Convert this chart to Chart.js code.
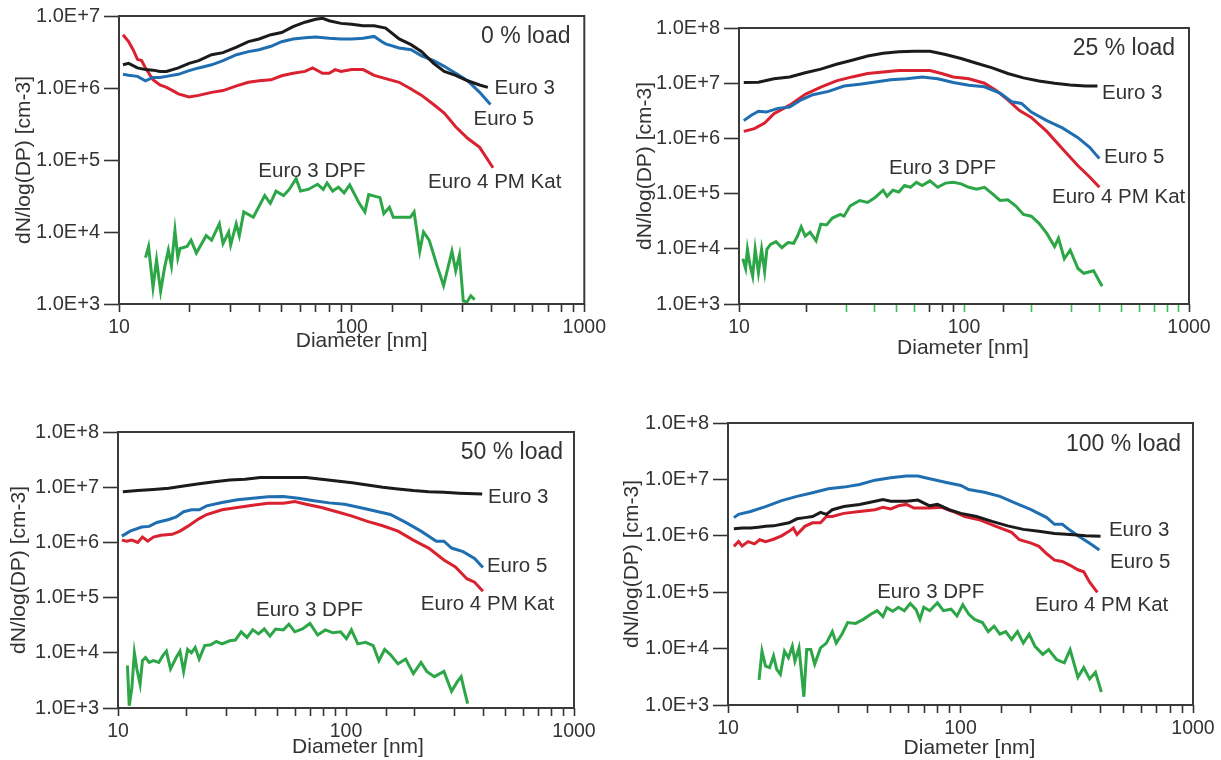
<!DOCTYPE html>
<html>
<head>
<meta charset="utf-8">
<script src="https://cdn.jsdelivr.net/npm/chart.js@4.4.1/dist/chart.umd.min.js"></script>
<style>
html,body{margin:0;padding:0;background:#fff;width:1221px;height:760px;overflow:hidden;}
canvas{position:absolute;}
</style>
</head>
<body>
<canvas id="p1" width="610" height="360" style="left:0px;top:0px"></canvas>
<canvas id="p2" width="611" height="360" style="left:610px;top:0px"></canvas>
<canvas id="p3" width="610" height="380" style="left:0px;top:380px"></canvas>
<canvas id="p4" width="611" height="380" style="left:610px;top:380px"></canvas>
<script>
// ---------- tick labels ----------
const xTickValues = [10, 100, 1000];
const xTickLabels = ['10', '100', '1000'];
const yTickValues = [1e3, 1e4, 1e5, 1e6, 1e7, 1e8];
const yTickLabels = ['1.0E+3', '1.0E+4', '1.0E+5', '1.0E+6', '1.0E+7', '1.0E+8'];
const seriesNames = ['Euro 3', 'Euro 5', 'Euro 4 PM Kat', 'Euro 3 DPF'];
const panelTitles = ['0 % load', '25 % load', '50 % load', '100 % load'];

// ---------- Panel 1 : 0 % load ----------
const p1Euro3D = [10.4, 11.0, 12.0, 13.0, 14.0, 15.0, 16.0, 18.0, 20.0, 22.0, 25.0, 28.0, 32.0, 36.0, 40.0, 45.0, 50.0, 56.0, 63.0, 70.0, 75.0, 80.0, 90.0, 100, 112, 125, 140, 160, 180, 200, 225, 250, 280, 315, 355, 385];
const p1Euro3V = [2.1e6, 2.2e6, 1.9e6, 1.8e6, 1.77e6, 1.7e6, 1.7e6, 1.9e6, 2.2e6, 2.4e6, 2.9e6, 3.1e6, 3.7e6, 4.4e6, 4.8e6, 5.5e6, 5.9e6, 7.1e6, 8.2e6, 9.0e6, 9.3e6, 8.6e6, 7.9e6, 7.7e6, 7.3e6, 7.3e6, 6.8e6, 4.8e6, 4.0e6, 3.2e6, 2.2e6, 1.7e6, 1.5e6, 1.26e6, 1.1e6, 1.02e6];
const p1Euro5D = [10.4, 11.0, 12.0, 13.0, 14.0, 15.0, 16.0, 18.0, 20.0, 22.0, 25.0, 28.0, 32.0, 36.0, 40.0, 45.0, 50.0, 56.0, 63.0, 70.0, 80.0, 90.0, 100, 112, 125, 135, 140, 160, 180, 200, 225, 250, 280, 315, 355, 395];
const p1Euro5V = [1.55e6, 1.5e6, 1.45e6, 1.26e6, 1.4e6, 1.4e6, 1.45e6, 1.55e6, 1.74e6, 1.9e6, 2.1e6, 2.4e6, 2.9e6, 3.2e6, 3.4e6, 3.8e6, 4.4e6, 4.8e6, 5.0e6, 5.1e6, 4.9e6, 4.8e6, 4.8e6, 4.9e6, 5.2e6, 4.4e6, 4.1e6, 3.6e6, 3.4e6, 2.8e6, 2.4e6, 2.0e6, 1.6e6, 1.26e6, 8.7e5, 5.9e5];
const p1Euro4D = [10.4, 11.0, 11.5, 12.0, 12.5, 13.0, 14.0, 15.0, 16.0, 17.0, 18.0, 20.0, 22.0, 25.0, 28.0, 32.0, 36.0, 40.0, 45.0, 50.0, 56.0, 63.0, 68.0, 75.0, 80.0, 85.0, 90.0, 100, 112, 125, 140, 160, 180, 200, 225, 250, 280, 315, 355, 405];
const p1Euro4V = [5.5e6, 4.4e6, 3.4e6, 2.5e6, 2.4e6, 1.9e6, 1.3e6, 1.1e6, 1.02e6, 9.2e5, 8.3e5, 7.5e5, 7.9e5, 8.7e5, 9.2e5, 1.07e6, 1.2e6, 1.26e6, 1.3e6, 1.48e6, 1.6e6, 1.7e6, 1.9e6, 1.6e6, 1.6e6, 1.8e6, 1.7e6, 1.8e6, 1.8e6, 1.5e6, 1.35e6, 1.2e6, 9.7e5, 7.9e5, 5.9e5, 4.5e5, 2.9e5, 2.0e5, 1.5e5, 7.8e4];
const p1DpfD = [13.0, 13.4, 14.0, 14.5, 15.1, 15.7, 16.3, 16.8, 17.4, 17.9, 18.3, 19.6, 20.4, 21.5, 23.7, 25.0, 27.0, 28.0, 29.6, 30.2, 31.9, 32.9, 34.4, 37.8, 42.3, 44.7, 47.3, 51.0, 53.9, 57.7, 60.3, 65.0, 71.4, 75.5, 78.4, 82.9, 87.7, 92.8, 98.1, 107.8, 114.0, 118.4, 132.4, 137.5, 145.4, 151.0, 178.7, 185.5, 196.2, 203.7, 215.4, 232.2, 248.4, 269.8, 280.0, 290.7, 301.8, 313.3, 325.3, 337.7];
const p1DpfV = [4.4e3, 6.3e3, 1.7e3, 4.1e3, 1.5e3, 3.2e3, 5.6e3, 3.4e3, 1.05e4, 4.4e3, 5.9e3, 6.3e3, 7.7e3, 5.1e3, 8.9e3, 7.7e3, 1.3e4, 6.9e3, 1.0e4, 6.6e3, 1.3e4, 8.9e3, 1.9e4, 1.6e4, 3.2e4, 2.5e4, 3.7e4, 3.2e4, 3.9e4, 5.5e4, 3.7e4, 3.9e4, 4.6e4, 3.9e4, 4.8e4, 3.7e4, 4.2e4, 3.5e4, 4.5e4, 2.5e4, 1.9e4, 3.3e4, 3.0e4, 1.8e4, 2.2e4, 1.6e4, 1.6e4, 1.9e4, 5.4e3, 1.0e4, 7.7e3, 3.5e3, 1.8e3, 5.4e3, 2.9e3, 4.8e3, 1.1e3, 1.07e3, 1.3e3, 1.15e3];

// ---------- Panel 2 : 25 % load ----------
const p2Euro3D = [10.5, 12.2, 14.3, 16.8, 19.7, 23.1, 27.1, 31.8, 37.3, 43.7, 51.3, 60.1, 70.6, 82.7, 97.0, 113.8, 133.5, 156.6, 183.7, 215.4, 252.7, 296.4, 347.6, 391.8];
const p2Euro3V = [1.03e7, 1.04e7, 1.2e7, 1.3e7, 1.55e7, 1.8e7, 2.2e7, 2.6e7, 3.1e7, 3.5e7, 3.7e7, 3.8e7, 3.8e7, 3.3e7, 2.8e7, 2.3e7, 1.9e7, 1.5e7, 1.25e7, 1.1e7, 1.0e7, 9.3e6, 8.9e6, 8.9e6];
const p2Euro5D = [10.5, 11.3, 12.2, 13.2, 14.9, 16.8, 18.9, 21.3, 25.0, 29.3, 34.4, 40.4, 47.3, 55.5, 65.2, 76.4, 89.6, 105.1, 123.3, 144.6, 163.0, 180.1, 199.0, 233.3, 273.7, 321.0, 361.8, 399.7];
const p2Euro5V = [2.1e6, 2.6e6, 3.1e6, 3.0e6, 3.5e6, 3.7e6, 5.0e6, 6.2e6, 7.1e6, 8.9e6, 9.6e6, 1.05e7, 1.15e7, 1.2e7, 1.3e7, 1.2e7, 1.03e7, 9.2e6, 8.6e6, 6.6e6, 4.6e6, 4.3e6, 3.0e6, 2.1e6, 1.55e6, 1.03e6, 6.9e5, 4.3e5];
const p2Euro4D = [10.5, 11.7, 13.0, 14.3, 16.8, 19.7, 23.1, 27.1, 31.8, 37.3, 43.7, 51.3, 60.1, 70.6, 79.5, 89.6, 105.1, 123.3, 139.0, 156.6, 176.5, 199.0, 233.3, 273.7, 321.0, 361.8, 399.7];
const p2Euro4V = [1.34e6, 1.5e6, 1.9e6, 2.8e6, 4.0e6, 6.3e6, 8.5e6, 1.1e7, 1.3e7, 1.5e7, 1.6e7, 1.7e7, 1.7e7, 1.7e7, 1.5e7, 1.3e7, 1.2e7, 1.0e7, 7.4e6, 5.0e6, 3.2e6, 2.4e6, 1.34e6, 6.5e5, 3.2e5, 2.0e5, 1.3e5];
const p2DpfD = [10.4, 10.7, 10.9, 11.2, 11.5, 11.8, 12.2, 12.6, 13.0, 13.3, 13.8, 14.6, 15.5, 16.5, 17.5, 18.2, 18.9, 19.7, 20.7, 22.0, 23.1, 24.5, 26.0, 28.2, 29.3, 31.2, 34.4, 37.3, 40.4, 43.7, 45.5, 48.3, 51.3, 54.4, 57.8, 61.4, 65.2, 70.6, 76.4, 82.7, 89.6, 97.0, 105.1, 113.8, 123.3, 133.5, 144.6, 156.6, 169.6, 183.7, 199.0, 215.4, 233.3, 252.7, 263.0, 279.2, 296.4, 321.0, 340.8, 376.6, 411.0];
const p2DpfV = [6.6e3, 4.4e3, 9.8e3, 5.0e3, 3.2e3, 9.8e3, 3.7e3, 9.8e3, 3.9e3, 9.8e3, 1.2e4, 1.35e4, 1.05e4, 1.3e4, 1.26e4, 1.7e4, 2.5e4, 1.7e4, 2.0e4, 1.4e4, 2.8e4, 2.7e4, 3.6e4, 4.2e4, 3.9e4, 6.0e4, 7.5e4, 6.9e4, 8.6e4, 1.15e5, 8.9e4, 1.15e5, 1.07e5, 1.4e5, 1.3e5, 1.6e5, 1.4e5, 1.7e5, 1.3e5, 1.55e5, 1.6e5, 1.5e5, 1.3e5, 1.2e5, 1.3e5, 1.0e5, 7.5e4, 7.7e4, 6.0e4, 4.2e4, 3.9e4, 2.9e4, 1.9e4, 1.1e4, 1.55e4, 6.6e3, 9.5e3, 4.4e3, 3.6e3, 4.0e3, 2.1e3];
const p2GreenTicks = [30, 40, 50, 60, 100, 200, 300, 400, 500, 600, 700, 800, 900];

// ---------- Panel 3 : 50 % load ----------
const p3Euro3D = [10.5, 12.2, 14.3, 16.7, 19.4, 22.7, 26.5, 30.9, 36.1, 42.1, 49.1, 57.3, 66.9, 78.1, 91.1, 106.4, 124.2, 144.9, 169.1, 197.4, 230.4, 268.9, 313.8, 395.7];
const p3Euro3V = [8.3e6, 8.7e6, 9.1e6, 9.6e6, 1.05e7, 1.15e7, 1.26e7, 1.35e7, 1.4e7, 1.5e7, 1.5e7, 1.5e7, 1.5e7, 1.4e7, 1.3e7, 1.2e7, 1.1e7, 1.0e7, 9.3e6, 8.7e6, 8.3e6, 8.1e6, 7.8e6, 7.5e6];
const p3Euro5D = [10.4, 11.3, 12.7, 13.7, 14.8, 16.7, 18.0, 19.4, 21.0, 22.7, 24.5, 28.6, 33.4, 39.0, 45.5, 53.1, 61.9, 72.3, 84.4, 98.5, 114.9, 134.2, 156.5, 182.7, 213.3, 248.9, 268.9, 290.4, 326.2, 366.3, 398.7];
const p3Euro5V = [1.3e6, 1.6e6, 1.9e6, 1.95e6, 2.3e6, 2.6e6, 2.9e6, 3.6e6, 3.9e6, 3.9e6, 4.6e6, 5.3e6, 5.9e6, 6.3e6, 6.7e6, 6.8e6, 6.3e6, 5.7e6, 5.2e6, 4.9e6, 4.3e6, 3.7e6, 3.2e6, 2.3e6, 1.6e6, 1.05e6, 1.05e6, 7.9e5, 6.8e5, 5.1e5, 3.5e5];
const p3Euro4D = [10.4, 10.9, 11.5, 12.2, 12.8, 13.5, 14.3, 15.4, 17.3, 18.7, 20.2, 22.7, 24.5, 28.6, 33.4, 39.0, 45.5, 53.1, 59.6, 66.9, 78.1, 91.1, 106.4, 124.2, 144.9, 169.1, 197.4, 230.4, 268.9, 301.9, 338.9, 366.3, 398.7];
const p3Euro4V = [1.1e6, 1.05e6, 1.1e6, 1.0e6, 1.25e6, 1.05e6, 1.25e6, 1.35e6, 1.4e6, 1.6e6, 1.95e6, 2.7e6, 3.2e6, 3.9e6, 4.3e6, 4.7e6, 5.1e6, 5.1e6, 5.5e6, 4.9e6, 4.3e6, 3.6e6, 3.0e6, 2.4e6, 2.0e6, 1.6e6, 1.1e6, 7.9e5, 4.8e5, 3.6e5, 2.2e5, 1.9e5, 1.3e5];
const p3DpfD = [11.0, 11.2, 11.5, 11.8, 12.1, 12.5, 12.8, 13.2, 13.7, 14.3, 15.1, 15.7, 16.3, 17.0, 18.0, 18.7, 19.4, 20.2, 21.0, 21.8, 22.7, 24.0, 25.5, 27.0, 28.6, 30.9, 32.7, 34.7, 36.8, 39.0, 41.3, 43.8, 46.4, 49.1, 53.1, 56.2, 59.6, 64.4, 69.5, 75.1, 81.2, 87.7, 94.7, 100.4, 105.6, 112.7, 121.8, 131.6, 139.4, 147.7, 156.5, 169.1, 182.7, 197.4, 213.3, 226.0, 244.1, 268.9, 290.4, 307.8, 319.9, 328.7, 341.6];
const p3DpfV = [5.9e3, 1.1e3, 2.3e3, 1.0e4, 5.1e3, 2.7e3, 7.2e3, 8.2e3, 6.7e3, 7.2e3, 6.7e3, 8.8e3, 1.07e4, 5.1e3, 8.2e3, 1.07e4, 4.6e3, 1.15e4, 1.0e4, 1.25e4, 7.7e3, 1.35e4, 1.4e4, 1.6e4, 1.45e4, 1.65e4, 1.7e4, 2.4e4, 1.9e4, 2.6e4, 2.2e4, 2.7e4, 2.0e4, 2.7e4, 2.6e4, 3.3e4, 2.4e4, 2.7e4, 3.4e4, 2.1e4, 2.6e4, 2.3e4, 2.4e4, 1.8e4, 2.6e4, 1.45e4, 1.55e4, 1.35e4, 7.2e3, 1.15e4, 9.3e3, 6.3e3, 7.7e3, 4.2e3, 6.7e3, 4.6e3, 3.7e3, 4.6e3, 2.0e3, 3.0e3, 3.7e3, 2.3e3, 1.2e3];

// ---------- Panel 4 : 100 % load ----------
const p4Euro3D = [10.6, 11.5, 12.5, 13.5, 14.5, 15.7, 17.0, 18.3, 19.8, 21.4, 23.1, 25.0, 26.5, 28.1, 31.5, 36.8, 42.9, 46.4, 50.1, 58.5, 65.6, 73.7, 79.6, 89.4, 100.4, 117.2, 136.7, 159.6, 186.3, 217.4, 253.8, 296.1, 345.6, 400.3];
const p4Euro3V = [1.33e6, 1.37e6, 1.37e6, 1.42e6, 1.47e6, 1.5e6, 1.6e6, 1.7e6, 2.0e6, 2.1e6, 2.2e6, 2.6e6, 2.4e6, 2.9e6, 3.3e6, 3.6e6, 4.1e6, 4.4e6, 4.1e6, 4.1e6, 4.3e6, 3.4e6, 3.6e6, 2.9e6, 2.5e6, 2.2e6, 1.8e6, 1.5e6, 1.3e6, 1.2e6, 1.1e6, 1.05e6, 1.0e6, 9.8e5];
const p4Euro5D = [10.6, 11.1, 12.5, 14.5, 17.0, 19.8, 23.1, 27.0, 31.5, 36.8, 42.9, 50.1, 58.5, 65.6, 73.7, 86.0, 100.4, 108.4, 126.6, 147.7, 172.4, 201.2, 234.9, 253.8, 274.2, 296.1, 319.9, 359.3, 395.7];
const p4Euro5V = [2.1e6, 2.4e6, 2.7e6, 3.3e6, 4.2e6, 5.0e6, 5.8e6, 6.8e6, 7.3e6, 8.1e6, 9.7e6, 1.07e7, 1.15e7, 1.15e7, 1.03e7, 8.9e6, 7.8e6, 6.6e6, 5.9e6, 5.0e6, 3.8e6, 2.9e6, 2.1e6, 1.6e6, 1.6e6, 1.25e6, 1.0e6, 7.4e5, 5.6e5];
const p4Euro4D = [10.6, 11.1, 11.5, 12.2, 13.0, 13.7, 14.5, 15.7, 17.0, 18.3, 19.1, 19.8, 21.4, 23.1, 25.0, 26.5, 28.1, 31.5, 36.8, 42.9, 46.4, 50.1, 54.1, 58.5, 63.1, 73.7, 82.8, 92.9, 104.3, 121.8, 142.1, 165.9, 179.2, 201.2, 217.4, 234.9, 253.8, 274.2, 296.1, 319.9, 338.9, 359.3, 380.6, 388.1];
const p4Euro4V = [6.5e5, 7.9e5, 6.6e5, 7.9e5, 7.2e5, 8.5e5, 7.9e5, 8.7e5, 1.0e6, 1.2e6, 1.37e6, 1.05e6, 1.47e6, 1.7e6, 1.7e6, 2.2e6, 2.2e6, 2.5e6, 2.7e6, 2.9e6, 3.2e6, 3.0e6, 3.4e6, 3.6e6, 3.1e6, 3.1e6, 3.2e6, 2.7e6, 2.2e6, 1.9e6, 1.47e6, 1.15e6, 8.5e5, 7.4e5, 6.5e5, 4.8e5, 3.7e5, 3.5e5, 3.0e5, 2.5e5, 2.3e5, 1.5e5, 1.1e5, 1.0e5];
const p4DpfD = [13.6, 14.0, 14.5, 15.1, 15.7, 16.2, 16.8, 17.5, 18.2, 18.9, 19.4, 20.2, 21.2, 21.8, 22.7, 23.6, 25.0, 26.5, 28.1, 29.2, 30.9, 32.7, 35.4, 38.2, 41.3, 43.8, 46.4, 48.2, 51.1, 54.1, 57.3, 60.8, 64.4, 66.9, 69.5, 73.7, 79.6, 84.4, 91.1, 96.6, 102.3, 108.4, 114.9, 124.2, 131.6, 139.4, 147.7, 156.5, 165.9, 175.8, 186.3, 197.4, 209.1, 226.0, 239.4, 258.8, 279.5, 296.1, 319.9, 338.9, 359.3, 380.6, 403.4];
const p4DpfV = [2.8e3, 9.0e3, 4.9e3, 4.6e3, 7.4e3, 4.3e3, 3.5e3, 9.0e3, 6.9e3, 1.1e4, 6.0e3, 1.03e4, 1.4e3, 9.6e3, 9.6e3, 5.3e3, 1.03e4, 1.25e4, 2.0e4, 1.25e4, 1.8e4, 2.9e4, 2.8e4, 3.3e4, 4.1e4, 4.7e4, 3.7e4, 5.3e4, 4.6e4, 5.4e4, 4.7e4, 6.3e4, 4.9e4, 3.3e4, 5.4e4, 4.7e4, 6.5e4, 4.7e4, 5.0e4, 3.8e4, 6.0e4, 4.1e4, 3.3e4, 2.9e4, 2.0e4, 2.5e4, 1.8e4, 2.0e4, 1.45e4, 2.0e4, 1.25e4, 1.8e4, 1.1e4, 7.9e3, 9.6e3, 6.4e3, 5.6e3, 9.6e3, 3.1e3, 4.6e3, 2.9e3, 3.8e3, 1.7e3];

// ---------- styling ----------
Chart.defaults.font.family = "'Liberation Sans', Arial, Helvetica, sans-serif";
Chart.defaults.color = '#333333';
const INK = '#333333';
const COLORS = ['#1b1b1b', '#1f6eb1', '#d9212f', '#2ca646'];
const GREEN_TICK = '#3cbf55';

function pts(d, v) { return d.map((x, i) => ({ x: x, y: v[i] })); }
function xLabel(v) {
  for (let i = 0; i < xTickValues.length; i++) {
    if (Math.abs(v - xTickValues[i]) / xTickValues[i] < 1e-6) return xTickLabels[i];
  }
  return '';
}

// frame, in-plot annotations and x-axis title
const decor = {
  id: 'decor',
  afterDraw(chart, args, o) {
    const { ctx, chartArea: a, scales } = chart;
    const xs = scales.x, ys = scales.y;
    ctx.save();
    ctx.strokeStyle = '#3a3a3a';
    ctx.lineWidth = 2;
    ctx.strokeRect(a.left, a.top, a.right - a.left, a.bottom - a.top);
    ctx.fillStyle = INK;
    ctx.textBaseline = 'middle';
    o.notes.forEach(n => {
      ctx.font = n.size + "px 'Liberation Sans', Arial, sans-serif";
      ctx.textAlign = n.align || 'left';
      ctx.fillText(n.text, xs.getPixelForValue(n.x), ys.getPixelForValue(n.y));
    });
    ctx.font = "21px 'Liberation Sans', Arial, sans-serif";
    ctx.textAlign = 'center';
    ctx.fillText('Diameter [nm]', (a.left + a.right) / 2 + o.xTitleDx, a.bottom + o.xTitleDy);
    ctx.restore();
  }
};

function makePanel(id, series, g, notes) {
  const datasets = series.map((s, i) => ({
    label: seriesNames[i],
    data: pts(s[0], s[1]),
    borderColor: COLORS[i],
    backgroundColor: COLORS[i],
    borderWidth: 3,
    pointRadius: 0,
    showLine: true,
    tension: 0,
    fill: false
  }));
  new Chart(document.getElementById(id), {
    type: 'scatter',
    data: { datasets: datasets },
    options: {
      responsive: false,
      animation: false,
      layout: { padding: { top: g.top, right: g.right, left: 0, bottom: 0 } },
      plugins: {
        legend: { display: false },
        tooltip: { enabled: false },
        decor: { notes: notes, xTitleDx: g.xtDx, xTitleDy: g.xtDy }
      },
      scales: {
        x: {
          type: 'logarithmic', min: 10, max: 1000,
          afterFit: s => { s.height = g.xh; },
          border: { display: false },
          grid: {
            drawOnChartArea: false, drawTicks: true, tickLength: 8, tickWidth: 1.6,
            tickColor: c => (g.greenTicks && c.tick && g.greenTicks.some(v => Math.abs(c.tick.value - v) < 1e-6)) ? GREEN_TICK : INK
          },
          ticks: { autoSkip: false, maxRotation: 0, minRotation: 0, padding: 4, font: { size: 19.5 }, color: INK, callback: v => xLabel(v) }
        },
        y: {
          type: 'logarithmic', min: 1e3, max: g.ymax,
          afterBuildTicks: s => { s.ticks = yTickValues.filter(v => v <= g.ymax).map(v => ({ value: v })); },
          afterFit: s => { s.width = g.yw; },
          border: { display: false },
          grid: { drawOnChartArea: false, drawTicks: true, tickLength: 15, tickWidth: 1.6, tickColor: INK },
          ticks: { padding: 4, font: { size: 20 }, color: INK, callback: v => yTickLabels[yTickValues.indexOf(v)] },
          title: { display: true, text: 'dN/log(DP) [cm-3]', color: INK, font: { size: 21 }, padding: { top: g.ytp, bottom: 0 } }
        }
      }
    },
    plugins: [decor]
  });
}

makePanel('p1',
  [[p1Euro3D, p1Euro3V], [p1Euro5D, p1Euro5V], [p1Euro4D, p1Euro4V], [p1DpfD, p1DpfV]],
  { top: 16, right: 20, yw: 119, xh: 56, ymax: 1e7, ytp: 12, xtDx: 10, xtDy: 37 },
  [
    { text: panelTitles[0], x: 872, y: 5.1e6, align: 'right', size: 23 },
    { text: seriesNames[0], x: 411, y: 1.0e6, size: 20.5 },
    { text: seriesNames[1], x: 334, y: 3.7e5, size: 20.5 },
    { text: seriesNames[2], x: 213, y: 4.9e4, size: 20.5 },
    { text: seriesNames[3], x: 39.7, y: 7.0e4, size: 20.5 }
  ]);

makePanel('p2',
  [[p2Euro3D, p2Euro3V], [p2Euro5D, p2Euro5V], [p2Euro4D, p2Euro4V], [p2DpfD, p2DpfV]],
  { top: 28, right: 32, yw: 129, xh: 56, ymax: 1e8, ytp: 23, xtDx: -1, xtDy: 44, greenTicks: p2GreenTicks },
  [
    { text: panelTitles[1], x: 867, y: 4.3e7, align: 'right', size: 23 },
    { text: seriesNames[0], x: 410.6, y: 6.6e6, size: 20.5 },
    { text: seriesNames[1], x: 419, y: 4.6e5, size: 20.5 },
    { text: seriesNames[2], x: 246, y: 8.7e4, size: 20.5 },
    { text: seriesNames[3], x: 46.4, y: 2.9e5, size: 20.5 }
  ]);

makePanel('p3',
  [[p3Euro3D, p3Euro3V], [p3Euro5D, p3Euro5V], [p3Euro4D, p3Euro4V], [p3DpfD, p3DpfV]],
  { top: 52, right: 36, yw: 118, xh: 52, ymax: 1e8, ytp: 7, xtDx: 12, xtDy: 39 },
  [
    { text: panelTitles[2], x: 895, y: 4.2e7, align: 'right', size: 23 },
    { text: seriesNames[0], x: 419.6, y: 6.6e6, size: 20.5 },
    { text: seriesNames[1], x: 415, y: 3.7e5, size: 20.5 },
    { text: seriesNames[2], x: 213, y: 7.7e4, size: 20.5 },
    { text: seriesNames[3], x: 40.3, y: 6.0e4, size: 20.5 }
  ]);

makePanel('p4',
  [[p4Euro3D, p4Euro3V], [p4Euro5D, p4Euro5V], [p4Euro4D, p4Euro4V], [p4DpfD, p4DpfV]],
  { top: 43, right: 28, yw: 118, xh: 55, ymax: 1e8, ytp: 10, xtDx: 9, xtDy: 43 },
  [
    { text: panelTitles[3], x: 888, y: 4.1e7, align: 'right', size: 23 },
    { text: seriesNames[0], x: 435, y: 1.27e6, size: 20.5 },
    { text: seriesNames[1], x: 440, y: 3.4e5, size: 20.5 },
    { text: seriesNames[2], x: 209, y: 5.9e4, size: 20.5 },
    { text: seriesNames[3], x: 43.8, y: 1.0e5, size: 20.5 }
  ]);
</script>
</body>
</html>
